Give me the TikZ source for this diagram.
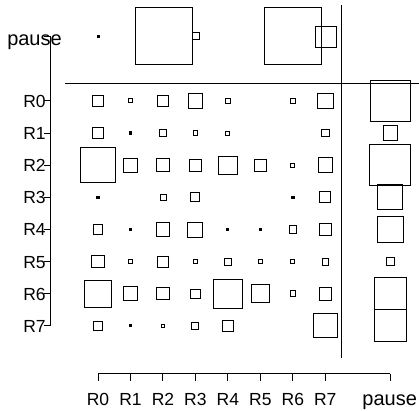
\documentclass[tikz,border=0pt]{standalone}
\usepackage{fontspec}
\setmainfont{Liberation Sans}
\begin{document}
\begin{tikzpicture}[x=1pt,y=-1pt,
  cell/.style={draw, line width=0.85pt, inner sep=0pt, outer sep=0pt, shape=rectangle, minimum size=#1},
  dotcell/.style={cell=#1, fill=black},
  axisline/.style={line width=0.9pt},
  rlab/.style={anchor=base, inner sep=0pt, font=\fontsize{17.5}{19}\selectfont},
  plab/.style={anchor=base, inner sep=0pt, font=\fontsize{20}{22}\selectfont}]
\useasboundingbox (0,0) rectangle (419,410);

% grid coordinates
\def\cx#1{98+32.47*#1}
\def\ry#1{100.9+32.14*#1}

% dividers
\coordinate (hdL) at (65,83.5);
\coordinate (hdR) at (419,83.5);
\coordinate (vdT) at (341.7,5);
\coordinate (vdB) at (341.7,358.3);
\draw[axisline] (hdL) -- (hdR);
\draw[axisline] (vdT) -- (vdB);

% left axis
\coordinate (yTop) at (50.5,36);
\coordinate (yBot) at (50.5,325.9);
\draw[axisline] (yTop) -- (yBot);
\draw[axisline] (43.5,36) -- (50.5,36);
\foreach \r in {0,...,7}{
  \draw[axisline] (43.5,{\ry{\r}}) -- (50.5,{\ry{\r}});
  \node[rlab] (ly\r) at (34.5,{\ry{\r}+6.5}) {R\r};
}
\node[plab] (lypause) at (34.5,45) {pause};

% bottom axis
\coordinate (xL) at (98,373.5);
\coordinate (xR) at (390.3,373.5);
\draw[axisline] (xL) -- (xR);
\foreach \c in {0,...,7}{
  \draw[axisline] ({\cx{\c}},373.5) -- ({\cx{\c}},381);
  \node[rlab] (lx\c) at ({\cx{\c}},405) {R\c};
}
\draw[axisline] (390.3,373.5) -- (390.3,381);
\node[plab] (lxpause) at (389.7,405) {pause};

% matrix cells: one list per row, R0..R7 columns
\foreach \row [count=\r from 0] in {
  {10.7,4,11.5,14.3,4.3,0,4.3,15.7},
  {11.3,2.5,6.7,4.7,4,0,0,7.3},
  {35,14,12.7,12,18.5,11.7,4,14.7},
  {2.5,0,6,9,0,0,2.5,11},
  {9.3,2,13.3,15,2,2.5,7.3,12.7},
  {12.3,3.7,11.3,4.3,6.7,4.3,4,6.7},
  {26.5,14,12.3,9.3,28.8,18,5.7,12.7},
  {9.7,2,3.7,7,11.7,0,0,24}}{
  \foreach \s [count=\c from 0] in \row {
    \ifdim \s pt>3pt
      \node[cell=\s pt] (c-\r-\c) at ({\cx{\c}},{\ry{\r}}) {};
    \else
      \ifdim \s pt>0pt
        \node[dotcell=\s pt] (c-\r-\c) at ({\cx{\c}},{\ry{\r}}) {};
      \fi
    \fi
  }
}

% pause column
\foreach \s [count=\r from 0] in {40.7,14.3,41,25,26.7,7.7,32,32}{
  \node[cell=\s pt] (c-\r-p) at (390.3,{\ry{\r}}) {};
}

% pause row
\node[dotcell=2pt] (c-p-0) at (98,36) {};
\node[cell=57pt]   (c-p-2) at (163.7,35.7) {};
\node[cell=7.7pt]  (c-p-3) at (196,36) {};
\node[cell=57pt]   (c-p-6) at (293.3,36) {};
\node[cell=21.5pt] (c-p-7) at (325.8,36.7) {};
\end{tikzpicture}
\end{document}
